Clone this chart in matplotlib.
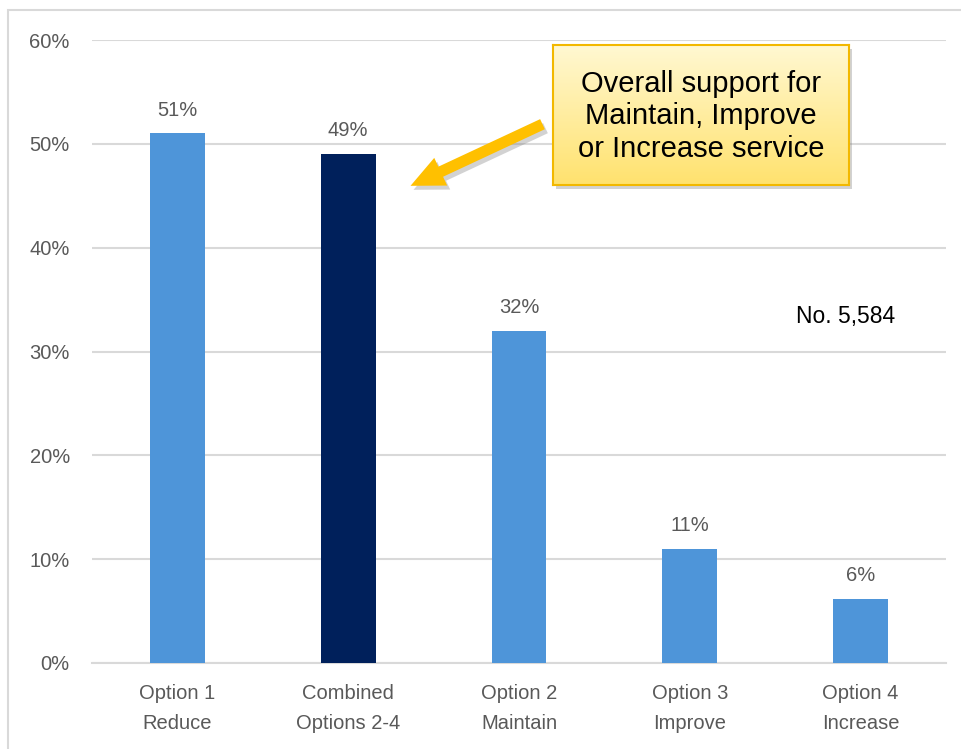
import matplotlib
matplotlib.use("Agg")
import matplotlib.pyplot as plt
import numpy as np
from matplotlib.patches import Rectangle, FancyArrowPatch

categories = ["Option 1\nReduce", "Combined\nOptions 2-4", "Option 2\nMaintain",
              "Option 3\nImprove", "Option 4\nIncrease"]
values = [51, 49, 32, 11, 6.2]
labels = ["51%", "49%", "32%", "11%", "6%"]
yticks = [0, 10, 20, 30, 40, 50, 60]
ytick_labels = ["0%", "10%", "20%", "30%", "40%", "50%", "60%"]
callout_text = "Overall support for\nMaintain, Improve\nor Increase service"
note_text = "No. 5,584"

plt.rcParams['font.family'] = ['Liberation Sans', 'DejaVu Sans']

W, H = 961, 749
fig = plt.figure(figsize=(W / 100, H / 100), dpi=100)
fig.patch.set_facecolor("white")

# outer border
fig.patches.append(Rectangle((8, -10), 980, H - 10 + 10 - 0, transform=None,
                             fill=False, edgecolor="#D9D9D9", lw=1.5, zorder=0))

ax = fig.add_axes([92 / W, 86 / H, (946 - 92) / W, (709 - 86) / H])
colors = ["#4E95D9", "#00205B", "#4E95D9", "#4E95D9", "#4E95D9"]
x = np.arange(len(categories))
ax.bar(x, values, width=0.32, color=colors, zorder=3)
for xi, v, lab in zip(x, values, labels):
    ax.annotate(lab, (xi, v), xytext=(0, 10), textcoords="offset points",
                ha="center", va="bottom", fontsize=14.5, color="#595959")

ax.set_xlim(-0.5, 4.5)
ax.set_ylim(0, 60)
ax.set_yticks(yticks)
ax.set_yticklabels(ytick_labels)
ax.set_xticks(x)
ax.set_xticklabels(categories, linespacing=1.72)
ax.tick_params(axis="both", length=0, labelsize=14.5, labelcolor="#595959")
ax.tick_params(axis="y", pad=16)
ax.tick_params(axis="x", pad=15)
ax.grid(axis="y", color="#D9D9D9", lw=1.5, zorder=0)
for s in ["top", "right", "left"]:
    ax.spines[s].set_visible(False)
ax.spines["bottom"].set_color("#D9D9D9")
ax.spines["bottom"].set_linewidth(1.5)
ax.set_axisbelow(True)

ax.text(846, H - 316, note_text, transform=None, ha="center", va="center",
        fontsize=16.5, color="black")

# arrow with shadow
tail = (545, H - 123)
tip = (408, H - 187)
style = "simple,head_width=22,head_length=24,tail_width=8"
sh = FancyArrowPatch((tail[0] + 3, tail[1] - 4), (tip[0] + 3, tip[1] - 4),
                     arrowstyle=style, transform=None, color="#808080",
                     alpha=0.35, lw=0, zorder=4, mutation_scale=1)
fig.patches.append(sh)
arr = FancyArrowPatch(tail, tip, arrowstyle=style, transform=None,
                      color="#FFC000", lw=0, zorder=5, mutation_scale=1)
fig.patches.append(arr)

# callout box shadow
bx0, bx1, by0, by1 = 553, 849, H - 185, H - 45
fig.patches.append(Rectangle((bx0 + 3, by0 - 4), bx1 - bx0, by1 - by0,
                             transform=None, facecolor="#808080", alpha=0.35,
                             lw=0, zorder=6))
bax = fig.add_axes([bx0 / W, by0 / H, (bx1 - bx0) / W, (by1 - by0) / H], zorder=7)
grad = np.linspace(0, 1, 256).reshape(-1, 1)
top = np.array([255, 248, 210]) / 255
bot = np.array([255, 226, 110]) / 255
img = top[None, None, :] * (1 - grad[:, :, None]) + bot[None, None, :] * grad[:, :, None]
bax.imshow(img, aspect="auto", extent=[0, 1, 0, 1], origin="upper")
bax.set_xticks([])
bax.set_yticks([])
for s in bax.spines.values():
    s.set_color("#F2B800")
    s.set_linewidth(1.5)
bax.text(0.5, 0.49, callout_text, transform=bax.transAxes, ha="center",
         va="center", fontsize=21, color="black", linespacing=1.21)

fig.savefig("out.png", dpi=100)
